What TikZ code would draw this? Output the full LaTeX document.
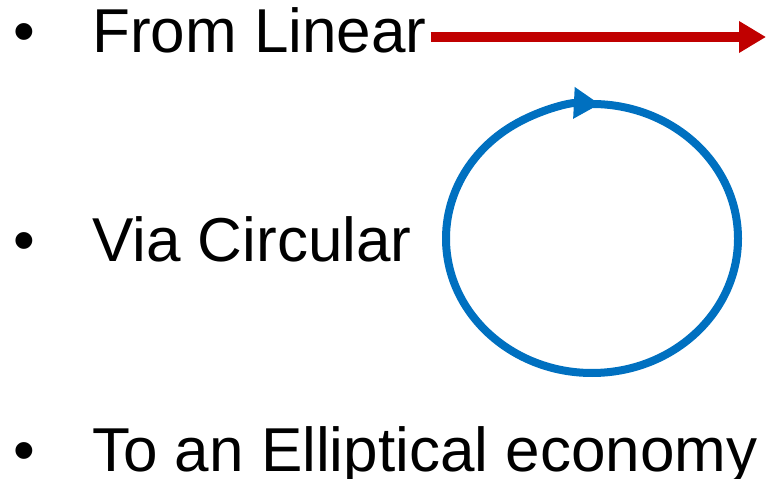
\documentclass[tikz,border=0pt]{standalone}
\usepackage{fontspec}
\setmainfont{Liberation Sans}
\usetikzlibrary{arrows.meta}
\definecolor{linred}{HTML}{C00000}
\definecolor{cycblue}{HTML}{0070C0}
\tikzset{
  item/.style={anchor=base west,inner sep=0,font=\fontsize{62}{70}\selectfont},
}
\begin{document}
\begin{tikzpicture}[x=1pt,y=1pt]
  \useasboundingbox (0,0) rectangle (766,479);
  % bullet lines, baselines at y = 426, 217, 7
  \node[item] (b1) at (13,426) {•};
  \node[item] (from) at (92,426) {From Linear};
  \node[item] (b2) at (13,217) {•};
  \node[item] (via) at (92,217) {Via Circular};
  \node[item] (b3) at (13,7) {•};
  \node[item] (to) at (92,7) {To an Elliptical economy};
  % linear: straight red arrow
  \coordinate (linend) at (766,442);
  \draw[linred,line width=10pt,-{Triangle[length=27pt,width=30pt]}]
    ([xshift=4pt]from.east |- linend) -- (linend);
  % circular: blue loop, clockwise, start hidden under the tip
  \coordinate (cyc) at (592,240.5);
  \draw[cycblue,line width=8pt,-{Triangle[length=26pt,width=30pt]}]
    (cyc) ++(93:146 and 134.5)
    arc[start angle=93,end angle=-273.1,x radius=146,y radius=134.5];
\end{tikzpicture}
\end{document}
